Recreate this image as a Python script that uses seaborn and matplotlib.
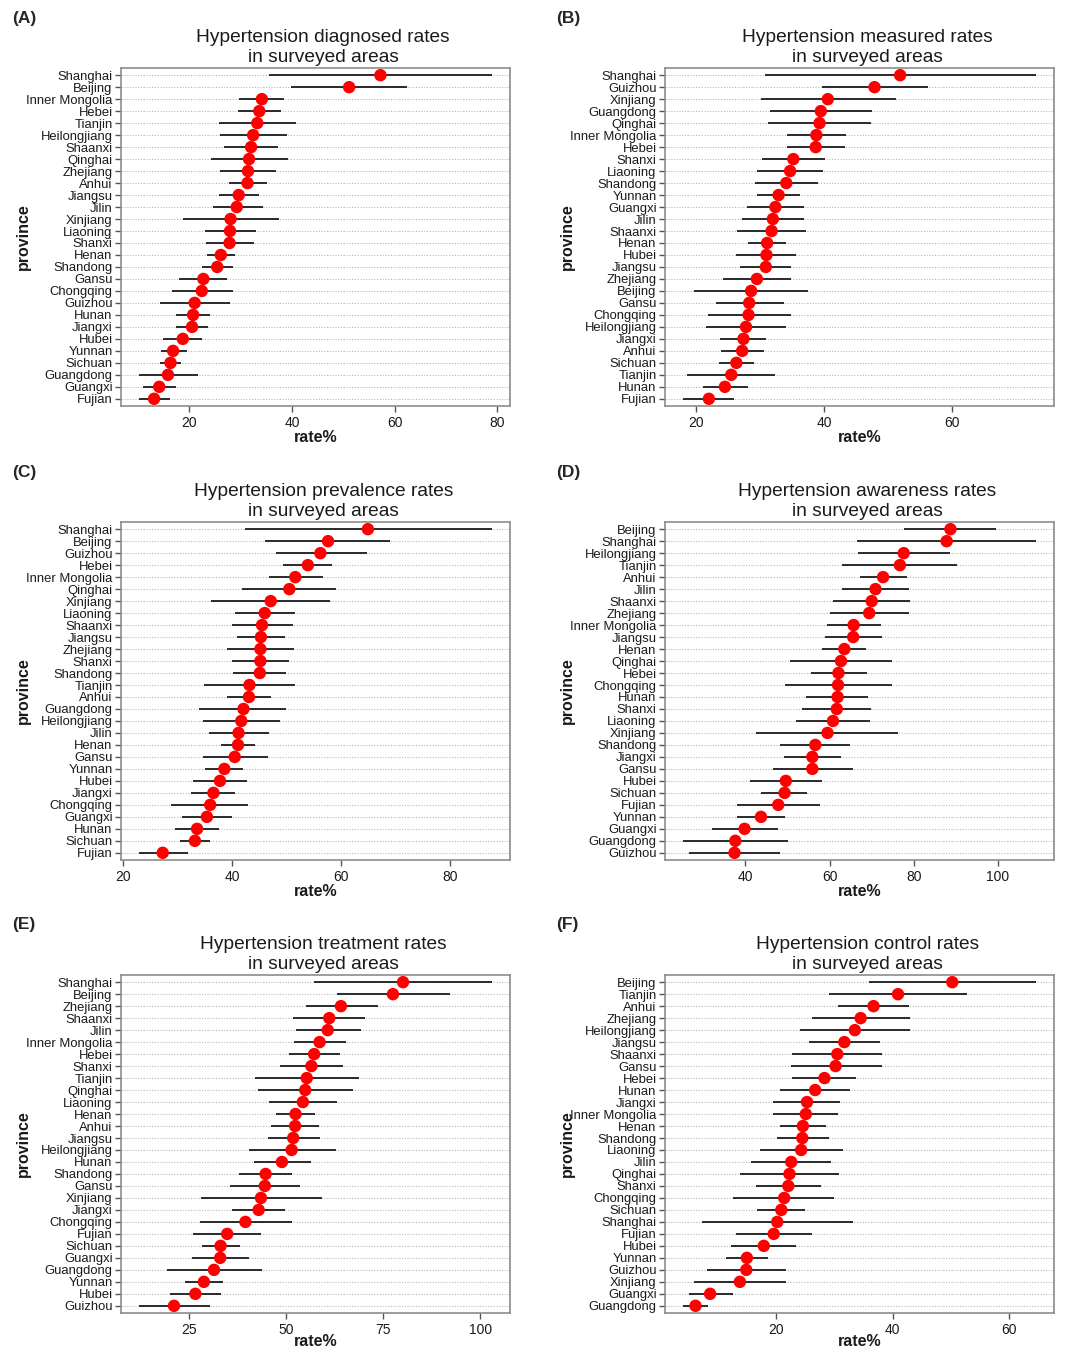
import numpy as np
import pandas as pd
import matplotlib
matplotlib.use("Agg")
import matplotlib.pyplot as plt
import seaborn as sns

# ---- data (rate %, lower CI, upper CI) ----
# (A) diagnosed
diag_prov = ["Shanghai", "Beijing", "Inner Mongolia", "Hebei", "Tianjin", "Heilongjiang", "Shaanxi",
             "Qinghai", "Zhejiang", "Anhui", "Jiangsu", "Jilin", "Xinjiang", "Liaoning", "Shanxi",
             "Henan", "Shandong", "Gansu", "Chongqing", "Guizhou", "Hunan", "Jiangxi", "Hubei",
             "Yunnan", "Sichuan", "Guangdong", "Guangxi", "Fujian"]
diag_rate = [57.2, 51.1, 34.1, 33.6, 33.2, 32.4, 32.0, 31.6, 31.4, 31.3, 29.6, 29.2, 28.0, 27.9, 27.8,
             26.1, 25.4, 22.7, 22.4, 21.0, 20.7, 20.5, 18.7, 16.8, 16.3, 15.8, 14.1, 13.1]
diag_lo = [35.5, 39.8, 29.6, 29.4, 25.7, 26.0, 26.7, 24.1, 25.9, 27.6, 25.8, 24.5, 18.8, 23.0, 23.3,
           23.5, 22.4, 18.0, 16.5, 14.3, 17.4, 17.3, 14.8, 14.4, 14.2, 10.1, 11.0, 10.1]
diag_hi = [79.0, 62.4, 38.4, 37.8, 40.7, 38.9, 37.3, 39.2, 36.9, 35.1, 33.5, 34.4, 37.4, 32.9, 32.5,
           28.8, 28.5, 27.4, 28.5, 27.8, 24.0, 23.6, 22.5, 19.5, 18.4, 21.7, 17.3, 16.2]

# (B) measured
meas_prov = ["Shanghai", "Guizhou", "Xinjiang", "Guangdong", "Qinghai", "Inner Mongolia", "Hebei",
             "Shanxi", "Liaoning", "Shandong", "Yunnan", "Guangxi", "Jilin", "Shaanxi", "Henan",
             "Hubei", "Jiangsu", "Zhejiang", "Beijing", "Gansu", "Chongqing", "Heilongjiang",
             "Jiangxi", "Anhui", "Sichuan", "Tianjin", "Hunan", "Fujian"]
meas_rate = [51.9, 47.9, 40.6, 39.5, 39.3, 38.8, 38.7, 35.2, 34.7, 34.1, 32.9, 32.4, 32.0, 31.8, 31.1,
             31.0, 30.9, 29.5, 28.6, 28.3, 28.2, 27.8, 27.4, 27.2, 26.3, 25.5, 24.5, 22.0]
meas_lo = [30.7, 39.7, 30.1, 31.5, 31.2, 34.2, 34.2, 30.3, 29.5, 29.2, 29.5, 27.9, 27.1, 26.4, 28.1,
           26.3, 26.9, 24.2, 19.7, 23.1, 21.8, 21.6, 23.8, 23.9, 23.6, 18.6, 21.0, 17.9]
meas_hi = [73.2, 56.2, 51.2, 47.5, 47.4, 43.4, 43.3, 40.2, 39.9, 39.0, 36.3, 36.8, 36.8, 37.2, 34.1,
           35.6, 34.8, 34.9, 37.5, 33.7, 34.8, 34.1, 30.9, 30.6, 29.0, 32.4, 28.1, 26.0]

# (C) prevalence
prev_prov = ["Shanghai", "Beijing", "Guizhou", "Hebei", "Inner Mongolia", "Qinghai", "Xinjiang",
             "Liaoning", "Shaanxi", "Jiangsu", "Zhejiang", "Shanxi", "Shandong", "Tianjin", "Anhui",
             "Guangdong", "Heilongjiang", "Jilin", "Henan", "Gansu", "Yunnan", "Hubei", "Jiangxi",
             "Chongqing", "Guangxi", "Hunan", "Sichuan", "Fujian"]
prev_rate = [64.9, 57.6, 56.2, 53.9, 51.6, 50.5, 47.1, 46.0, 45.5, 45.3, 45.2, 45.2, 45.1, 43.2, 43.1,
             42.1, 41.7, 41.2, 41.1, 40.5, 38.6, 37.8, 36.6, 36.0, 35.4, 33.6, 33.2, 27.3]
prev_lo = [42.4, 46.0, 48.0, 49.3, 46.8, 41.9, 36.2, 40.5, 40.0, 40.9, 39.1, 40.0, 40.2, 34.9, 39.0,
           33.9, 34.7, 35.8, 38.0, 34.6, 35.1, 32.8, 32.5, 28.9, 30.9, 29.6, 30.4, 22.9]
prev_hi = [87.7, 69.0, 64.7, 58.4, 56.7, 59.0, 58.0, 51.5, 51.2, 49.7, 51.3, 50.4, 49.9, 51.5, 47.1,
           49.9, 48.8, 46.8, 44.3, 46.6, 42.1, 42.7, 40.6, 43.0, 40.0, 37.6, 36.0, 31.9]

# (D) awareness
awar_prov = ["Beijing", "Shanghai", "Heilongjiang", "Tianjin", "Anhui", "Jilin", "Shaanxi",
             "Zhejiang", "Inner Mongolia", "Jiangsu", "Henan", "Qinghai", "Hebei", "Chongqing",
             "Hunan", "Shanxi", "Liaoning", "Xinjiang", "Shandong", "Jiangxi", "Gansu", "Hubei",
             "Sichuan", "Fujian", "Yunnan", "Guangxi", "Guangdong", "Guizhou"]
awar_rate = [88.7, 87.8, 77.6, 76.7, 72.7, 70.9, 70.0, 69.4, 65.7, 65.6, 63.5, 62.7, 62.1, 62.0,
             61.9, 61.7, 60.8, 59.5, 56.6, 55.9, 55.9, 49.6, 49.3, 47.8, 43.7, 39.8, 37.6, 37.4]
awar_lo = [77.7, 66.5, 66.8, 63.0, 67.1, 63.0, 60.7, 60.0, 59.3, 58.8, 58.1, 50.5, 55.5, 49.4,
           54.5, 53.5, 52.1, 42.6, 48.2, 49.1, 46.5, 41.0, 43.8, 38.1, 38.1, 32.0, 25.1, 26.5]
awar_hi = [99.6, 109.1, 88.5, 90.3, 78.3, 78.9, 79.2, 78.9, 72.2, 72.5, 68.7, 74.9, 69.0, 74.9,
           69.2, 69.9, 69.6, 76.3, 64.9, 62.8, 65.6, 58.1, 54.7, 57.7, 49.3, 47.7, 50.2, 48.3]

# (E) treatment
treat_prov = ["Shanghai", "Beijing", "Zhejiang", "Shaanxi", "Jilin", "Inner Mongolia", "Hebei",
              "Shanxi", "Tianjin", "Qinghai", "Liaoning", "Henan", "Anhui", "Jiangsu",
              "Heilongjiang", "Hunan", "Shandong", "Gansu", "Xinjiang", "Jiangxi", "Chongqing",
              "Fujian", "Sichuan", "Guangxi", "Guangdong", "Yunnan", "Hubei", "Guizhou"]
treat_rate = [80.1, 77.5, 64.1, 61.1, 60.7, 58.6, 57.2, 56.5, 55.3, 54.9, 54.3, 52.4, 52.3, 51.8,
              51.4, 48.9, 44.7, 44.5, 43.5, 42.9, 39.5, 34.8, 33.1, 33.0, 31.4, 28.8, 26.6, 21.1]
treat_lo = [57.1, 63.2, 55.0, 51.8, 52.6, 52.1, 50.7, 48.4, 42.0, 42.8, 45.6, 47.3, 46.2, 45.2,
            40.4, 41.7, 37.9, 35.5, 28.0, 36.1, 27.7, 26.1, 28.3, 25.8, 19.2, 23.9, 20.1, 12.0]
treat_hi = [103.1, 92.1, 73.6, 70.4, 69.4, 65.3, 63.8, 64.7, 68.8, 67.1, 63.2, 57.5, 58.5, 58.6,
            62.8, 56.5, 51.6, 53.5, 59.2, 49.6, 51.4, 43.5, 38.0, 40.4, 43.7, 33.6, 33.1, 30.3]

# (F) control
ctrl_prov = ["Beijing", "Tianjin", "Anhui", "Zhejiang", "Heilongjiang", "Jiangsu", "Shaanxi",
             "Gansu", "Hebei", "Hunan", "Jiangxi", "Inner Mongolia", "Henan", "Shandong",
             "Liaoning", "Jilin", "Qinghai", "Shanxi", "Chongqing", "Sichuan", "Shanghai",
             "Fujian", "Hubei", "Yunnan", "Guizhou", "Xinjiang", "Guangxi", "Guangdong"]
ctrl_rate = [50.2, 40.9, 36.7, 34.5, 33.5, 31.7, 30.5, 30.2, 28.3, 26.7, 25.3, 25.1, 24.6, 24.5,
             24.3, 22.6, 22.3, 22.1, 21.4, 20.9, 20.2, 19.6, 17.9, 15.0, 14.9, 13.8, 8.7, 6.2]
ctrl_lo = [36.0, 29.1, 30.6, 26.2, 24.1, 25.7, 22.7, 22.5, 22.8, 20.7, 19.5, 19.5, 20.7, 20.1,
           17.3, 15.7, 13.8, 16.6, 12.7, 16.8, 7.3, 13.1, 12.3, 11.4, 8.2, 5.9, 5.1, 4.0]
ctrl_hi = [64.6, 52.7, 42.7, 42.9, 43.0, 37.8, 38.2, 38.1, 33.7, 32.7, 31.0, 30.7, 28.6, 29.0,
           31.5, 29.4, 30.8, 27.7, 30.0, 25.0, 33.2, 26.1, 23.5, 18.6, 21.7, 21.7, 12.6, 8.3]

panels = [
    ("(A)", "Hypertension diagnosed rates\nin surveyed areas", diag_prov, diag_rate, diag_lo, diag_hi, [20, 40, 60, 80]),
    ("(B)", "Hypertension measured rates\nin surveyed areas", meas_prov, meas_rate, meas_lo, meas_hi, [20, 40, 60]),
    ("(C)", "Hypertension prevalence rates\nin surveyed areas", prev_prov, prev_rate, prev_lo, prev_hi, [20, 40, 60, 80]),
    ("(D)", "Hypertension awareness rates\nin surveyed areas", awar_prov, awar_rate, awar_lo, awar_hi, [40, 60, 80, 100]),
    ("(E)", "Hypertension treatment rates\nin surveyed areas", treat_prov, treat_rate, treat_lo, treat_hi, [25, 50, 75, 100]),
    ("(F)", "Hypertension control rates\nin surveyed areas", ctrl_prov, ctrl_rate, ctrl_lo, ctrl_hi, [20, 40, 60]),
]

sns.set_style("white")
plt.rcParams['font.family'] = ['Liberation Sans', 'DejaVu Sans']

W, H = 1072, 1349
fig = plt.figure(figsize=(W / 100, H / 100), dpi=100)

lefts = [121, 665]
tops = [68, 522, 975]
ax_w, ax_h = 389, 338

for i, (tag, title, prov, rate, lo, hi, ticks) in enumerate(panels):
    col, row = i % 2, i // 2
    x0, y0 = lefts[col], tops[row]
    ax = fig.add_axes([x0 / W, 1 - (y0 + ax_h) / H, ax_w / W, ax_h / H])

    df = pd.DataFrame({"province": prov, "rate": rate, "lower": lo, "upper": hi})

    # red points
    sns.scatterplot(data=df, x="rate", y="province", ax=ax, color="#ff0000",
                    s=80, edgecolor="none", zorder=3, legend=False)
    # confidence interval lines
    ax.hlines(y=df["province"], xmin=df["lower"], xmax=df["upper"],
              color="#1a1a1a", linewidth=1.3, zorder=2)

    # axes ranges like ggplot default expansion
    span = df["upper"].max() - df["lower"].min()
    ax.set_xlim(df["lower"].min() - 0.05 * span, df["upper"].max() + 0.05 * span)
    ax.set_ylim(len(prov) - 0.4, -0.6)
    ax.set_xticks(ticks)

    # dotted horizontal grid only
    ax.grid(axis="y", linestyle=(0, (1, 1.5)), color="#b8b8b8", linewidth=0.8)
    ax.grid(axis="x", visible=False)
    ax.set_axisbelow(True)

    for sp in ax.spines.values():
        sp.set_color("#8c8c8c")
        sp.set_linewidth(1.2)

    ax.tick_params(axis="both", length=4, width=1.0, color="#555555",
                   labelcolor="#1a1a1a", left=True, bottom=True)
    ax.tick_params(axis="y", labelsize=9.4, pad=2)
    ax.tick_params(axis="x", labelsize=10, pad=3)

    ax.set_xlabel("rate%", fontsize=11.5, fontweight="bold", color="#1a1a1a")
    ax.set_ylabel("province", fontsize=11.5, fontweight="bold", color="#1a1a1a")
    # bottom row sits at the page edge, nudge its label up so it stays whole
    ax.xaxis.set_label_coords(0.5, -0.072 if row < 2 else -0.062)
    ax.yaxis.set_label_coords(-0.232, 0.5)

    ax.text(0.52, 1.006, title, transform=ax.transAxes, ha="center", va="bottom",
            fontsize=13.8, color="#1a1a1a", linespacing=1.2)

    fig.text((12 + col * 544) / W, 1 - (y0 - 50) / H, tag, fontsize=12.5,
             fontweight="bold", ha="left", va="center")

fig.savefig("out.png", dpi=100, facecolor="white")
